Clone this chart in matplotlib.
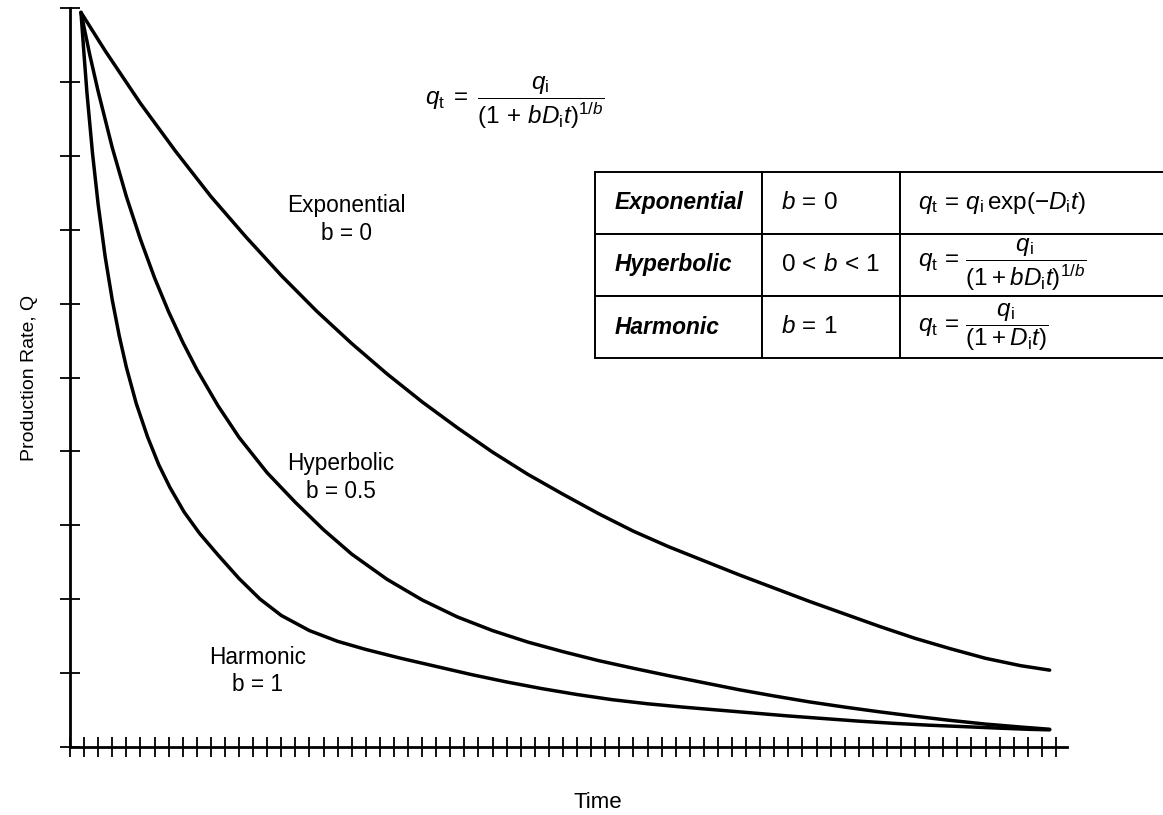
import numpy as np
import matplotlib
matplotlib.use("Agg")
import matplotlib.pyplot as plt

plt.rcParams['font.family'] = ['Liberation Sans', 'DejaVu Sans']
plt.rcParams['mathtext.fontset'] = 'custom'
plt.rcParams['mathtext.rm'] = 'Liberation Sans'
plt.rcParams['mathtext.it'] = 'Liberation Sans:italic'
plt.rcParams['mathtext.bf'] = 'Liberation Sans:bold'

# curves (time and rate in tick units)
exp_t = [0.78, 2.5, 5, 7.5, 10, 12.5, 15, 17.5, 20, 22.5, 25, 27.5, 30, 32.5,
         35, 37.5, 40, 42.5, 45, 47.5, 50, 52.5, 55, 57.5, 60, 62.5, 65, 67.5,
         69.55]
exp_q = [9.94, 9.42, 8.71, 8.06, 7.45, 6.90, 6.38, 5.90, 5.46, 5.05, 4.67,
         4.32, 3.99, 3.69, 3.42, 3.16, 2.92, 2.71, 2.52, 2.33, 2.15, 1.97,
         1.80, 1.63, 1.47, 1.33, 1.20, 1.10, 1.04]

hyp_t = [0.78, 1.4, 2, 3, 4, 5, 6, 7, 8, 9, 10.5, 12, 14, 16, 18, 20, 22.5,
         25, 27.5, 30, 32.5, 35, 37.5, 40, 42.5, 45, 47.5, 50, 52.5, 55,
         57.5, 60, 62.5, 65, 67.5, 69.55]
hyp_q = [9.94, 9.37, 8.87, 8.11, 7.45, 6.87, 6.35, 5.89, 5.48, 5.11, 4.62,
         4.19, 3.71, 3.31, 2.94, 2.61, 2.27, 1.99, 1.76, 1.575, 1.42, 1.29,
         1.17, 1.065, 0.965, 0.87, 0.775, 0.69, 0.61, 0.54, 0.475, 0.415,
         0.36, 0.31, 0.27, 0.24]

har_t = [0.78, 1.0, 1.2, 1.6, 2, 2.5, 3, 3.5, 4, 4.7, 5.5, 6.3, 7.1, 8.1, 9.2,
         10.5, 12, 13.5, 15, 17, 19, 21, 23.5, 26, 28.5, 31, 33.5, 36, 38.5,
         41, 43.5, 46, 48.5, 51, 53.5, 56, 58.5, 61, 63.5, 66, 68, 69.55]
har_q = [9.94, 9.36, 8.86, 8.03, 7.34, 6.63, 6.05, 5.56, 5.14, 4.65, 4.20,
         3.82, 3.51, 3.18, 2.89, 2.60, 2.28, 2.00, 1.78, 1.575, 1.43, 1.32,
         1.20, 1.09, 0.98, 0.88, 0.79, 0.71, 0.64, 0.585, 0.54, 0.50, 0.46,
         0.42, 0.385, 0.35, 0.32, 0.295, 0.275, 0.255, 0.24, 0.232]

curve_labels = ['Exponential\nb = 0', 'Hyperbolic\nb = 0.5', 'Harmonic\nb = 1']
label_pos = [(19.6, 7.14), (19.2, 3.65), (13.3, 1.03)]

table_rows = [
    ['Exponential', r'$b\,=\,0$',
     r'$q_{\mathrm{t}}\,=\,q_{\mathrm{i}}\,\mathrm{exp}(-D_{\mathrm{i}}t)$'],
    ['Hyperbolic', r'$0\,<\,b\,<\,1$',
     r'$q_{\mathrm{t}}\,=\,\dfrac{q_{\mathrm{i}}}{(1 + bD_{\mathrm{i}}t)^{1/b}}$'],
    ['Harmonic', r'$b\,=\,1$',
     r'$q_{\mathrm{t}}\,=\,\dfrac{q_{\mathrm{i}}}{(1 + D_{\mathrm{i}}t)}$'],
]

fig = plt.figure(figsize=(11.63, 8.15), dpi=100)
ax = fig.add_axes([70 / 1163, 68 / 815, 997 / 1163, 739 / 815])

for t, q in [(exp_t, exp_q), (hyp_t, hyp_q), (har_t, har_q)]:
    ax.plot(t, q, color='black', lw=2.5, solid_joinstyle='round',
            solid_capstyle='round')

for txt, (x, y) in zip(curve_labels, label_pos):
    ax.text(x, y, txt, ha='center', va='center', multialignment='center',
            fontsize=16.3, linespacing=1.25)

ax.set_xlim(0, 70.78)
ax.set_ylim(0, 10)
ax.set_xticks(np.arange(0, 71))
ax.set_yticks(np.arange(0, 11))
ax.set_xticklabels([])
ax.set_yticklabels([])
ax.tick_params(axis='x', direction='inout', length=14.4, width=1.3)
ax.tick_params(axis='y', direction='inout', length=13.7, width=1.3)
for s in ['top', 'right']:
    ax.spines[s].set_visible(False)
for s in ['left', 'bottom']:
    ax.spines[s].set_linewidth(2.0)

# decline formula above the table
ax.text(31.6, 8.72,
        r'$q_{\mathrm{t}}\;=\;\dfrac{q_{\mathrm{i}}}{(1\,+\,bD_{\mathrm{i}}t)^{1/b}}$',
        ha='center', va='center', fontsize=17.5)

tab = ax.table(cellText=table_rows, cellLoc='left',
               colWidths=[166.7 / 568, 138.3 / 568, 263 / 568],
               bbox=[(595 - 70) / 997, (747 - 358.3) / 739,
                     (1163 - 595) / 997, (358.3 - 171.7) / 739])
tab.auto_set_font_size(False)
tab.set_fontsize(17.5)
pads = [0.12, 0.14, 0.07]
for (r, c), cell in tab.get_celld().items():
    cell.set_linewidth(1.4)
    cell.PAD = pads[c]
    if c == 0:
        cell.get_text().set_fontweight('bold')
        cell.get_text().set_fontstyle('italic')
        cell.get_text().set_fontsize(16.4)
    if c == 2:
        cell.visible_edges = 'BTL'

fig.text(598 / 1163, 1 - 803 / 815, 'Time', ha='center', va='center', fontsize=16)
fig.text(30 / 1163, 1 - 378 / 815, 'Production Rate, Q', ha='center', va='center',
         rotation=90, fontsize=14)

fig.savefig('out.png', dpi=100)
